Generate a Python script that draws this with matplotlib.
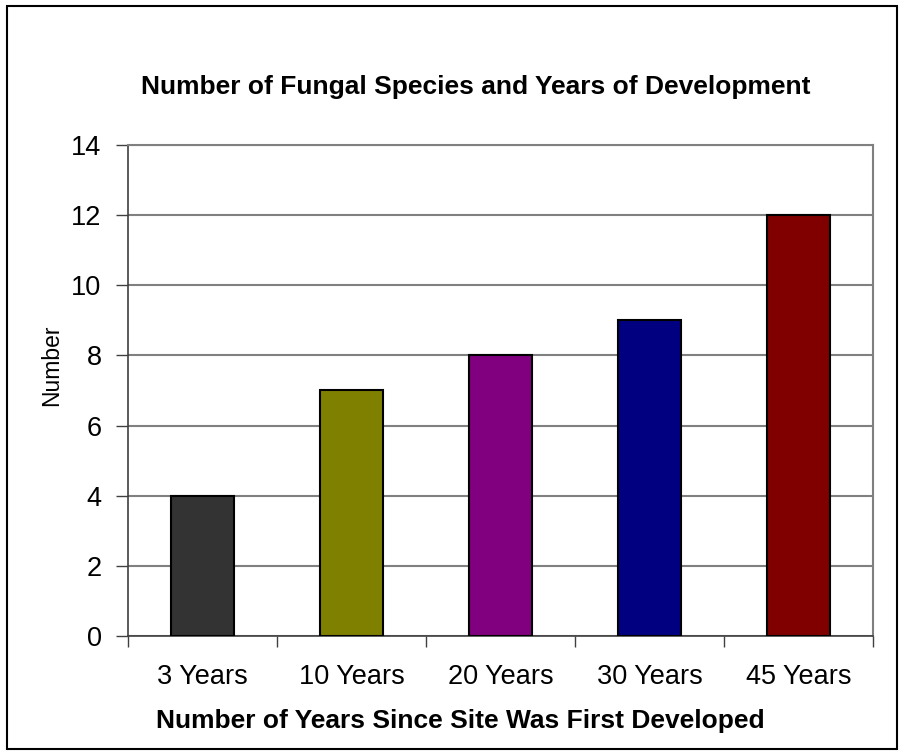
import matplotlib.pyplot as plt
from matplotlib.patches import Rectangle

plt.rcParams['font.family'] = ['Liberation Sans', 'DejaVu Sans']

# Chart data
categories = ['3 Years', '10 Years', '20 Years', '30 Years', '45 Years']
species = [4, 7, 8, 9, 12]
bar_colors = ['#333333', '#808000', '#800080', '#000080', '#800000']
y_ticks = [0, 2, 4, 6, 8, 10, 12, 14]

fig = plt.figure(figsize=(9.04, 7.55), dpi=100)
ax = fig.add_axes([0.1416, 0.1576, 0.8241, 0.6504])

x = range(len(categories))
ax.bar(x, species, width=0.42, color=bar_colors, edgecolor='black', linewidth=1.5, zorder=3)

ax.set_xlim(-0.5, len(categories) - 0.5)
ax.set_ylim(0, 14)
ax.set_yticks(y_ticks)
ax.set_xticks(list(x))
ax.set_xticklabels(categories)
ax.set_xticks([i - 0.5 for i in range(len(categories) + 1)], minor=True)
ax.tick_params(axis='x', which='major', length=0, pad=20, labelsize=19.5)
ax.tick_params(axis='x', which='minor', length=8, width=1, color='#404040', direction='out')
ax.tick_params(axis='y', length=9, width=1, color='#404040', labelsize=19.5, pad=10)

ax.grid(axis='y', color='#808080', linewidth=1.5, zorder=0)
for side in ['top', 'right']:
    ax.spines[side].set_color('#808080')
    ax.spines[side].set_linewidth(1.5)
for side in ['left', 'bottom']:
    ax.spines[side].set_color('#404040')
    ax.spines[side].set_linewidth(1.2)

ax.set_title('Number of Fungal Species and Years of Development',
             fontsize=19, fontweight='bold', pad=37, x=0.467)
ax.set_xlabel('Number of Years Since Site Was First Developed',
              fontsize=19, fontweight='bold', labelpad=14, x=0.4456)
ax.set_ylabel('Number', fontsize=16.5, labelpad=6, y=0.552)

# Outer frame round the whole chart
fig.patches.append(Rectangle((0.008, 0.008), 0.984, 0.984, transform=fig.transFigure,
                             fill=False, edgecolor='black', linewidth=1.5))

fig.savefig('out.png', dpi=100)
